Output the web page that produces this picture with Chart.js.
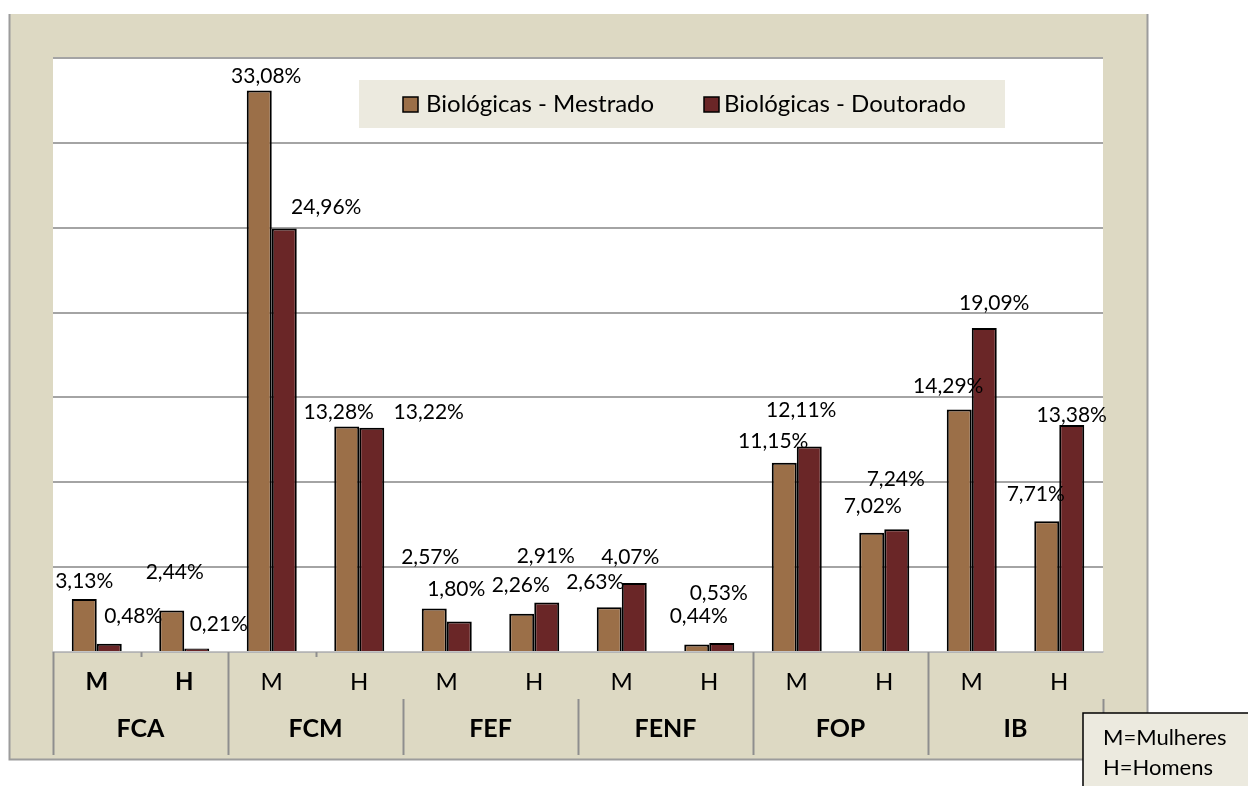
<!DOCTYPE html>
<html><head><meta charset="utf-8">
<script src="https://cdn.jsdelivr.net/npm/chart.js@4.4.1/dist/chart.umd.min.js"></script>
<style>html,body{margin:0;padding:0;background:#fff;}canvas{display:block;}</style>
</head><body>
<canvas id="c" width="1248" height="786"></canvas>
<script>
// ---- data ----
const categories = ['M','H','M','H','M','H','M','H','M','H','M','H'];
const groups = ['FCA','FCM','FEF','FENF','FOP','IB'];
const seriesNames = ['Biológicas - Mestrado','Biológicas - Doutorado'];
const mestrado  = [3.13, 2.44, 33.08, 13.28, 2.57, 2.26, 2.63, 0.44, 11.15, 7.02, 14.29, 7.71];
const doutorado = [0.48, 0.21, 24.96, 13.22, 1.80, 2.91, 4.07, 0.53, 12.11, 7.24, 19.09, 13.38];
const yMin = 0, yMax = 35, yStep = 5;
const noteLines = ['M=Mulheres', 'H=Homens'];

// ---- style ----
const FONT = 'Lato, "Open Sans", sans-serif';
const COL_M = '#9B6F48', COL_D = '#6A2627';
const BEIGE = '#DDD9C3', LIGHT = '#ECEADF', GRID = '#A4A4A4';
// label nudges (px) relative to bar top centre, mimicking the original manual placement
const shiftM = [[0,-18],[3,-38],[7,-14],[-8,-14],[-4,-51],[-1,-28],[-14,-25],[2,-28],[-11,-22],[1,-27],[-11,-23],[-11,-27]];
const shiftD = [[24,-28],[22,-24],[42,-21],[57,-15],[-3,-32],[-1,-46],[-4,-26],[-3,-50],[-8,-36],[-1,-50],[10,-25],[0,-10]];
const sepFull = [true, true, false, false, true, true, false];

const fmt = v => v.toFixed(2).replace('.', ',') + '%';

const framePlugin = {
  id: 'framePlugin',
  beforeDraw(chart) {
    const {ctx, chartArea: a} = chart;
    ctx.save();
    ctx.fillStyle = '#fff'; ctx.fillRect(0, 0, chart.width, chart.height);
    ctx.fillStyle = BEIGE; ctx.fillRect(10, 14, 1137, 745);
    ctx.strokeStyle = '#9C9C9C'; ctx.lineWidth = 2;
    ctx.beginPath(); ctx.moveTo(9.5, 14); ctx.lineTo(9.5, 759.5); ctx.lineTo(1147.5, 759.5); ctx.lineTo(1147.5, 14); ctx.stroke();
    ctx.fillStyle = '#fff'; ctx.fillRect(a.left, a.top, a.right - a.left, a.bottom - a.top);
    ctx.restore();
  },
  afterDatasetsDraw(chart) {
    const {ctx} = chart;
    ctx.save();
    ctx.font = '21px ' + FONT; ctx.fillStyle = '#000';
    ctx.textAlign = 'center'; ctx.textBaseline = 'middle';
    [shiftM, shiftD].forEach((sh, di) => {
      const meta = chart.getDatasetMeta(di);
      const vals = chart.data.datasets[di].data;
      meta.data.forEach((bar, i) => {
        ctx.fillText(fmt(vals[i]), bar.x + sh[i][0], bar.y + sh[i][1]);
      });
    });
    ctx.restore();
  },
  afterDraw(chart) {
    const {ctx, chartArea: a} = chart;
    ctx.save();
    // group separators in the category band
    const w = (a.right - a.left) / groups.length;
    ctx.strokeStyle = '#8E8E8E'; ctx.lineWidth = 2;
    for (let g = 0; g <= groups.length; g++) {
      const x = Math.round(a.left + g * w) + 0.5;
      ctx.beginPath(); ctx.moveTo(x, sepFull[g] ? a.bottom : a.bottom + 47); ctx.lineTo(x, 755); ctx.stroke();
    }
    for (let g = 0; g < 2; g++) {
      const x = Math.round(a.left + g * w + w / 2) + 0.5;
      ctx.beginPath(); ctx.moveTo(x, a.bottom); ctx.lineTo(x, a.bottom + 5); ctx.stroke();
    }
    // legend
    ctx.fillStyle = LIGHT; ctx.fillRect(359, 80, 646, 48);
    const items = [[403, 426], [704, 724]];
    ctx.font = '24px ' + FONT; ctx.textAlign = 'left'; ctx.textBaseline = 'middle';
    chart.data.datasets.forEach((ds, i) => {
      const [mx, tx] = items[i];
      ctx.fillStyle = ds.backgroundColor; ctx.fillRect(mx, 97, 15, 15);
      ctx.strokeStyle = '#000'; ctx.lineWidth = 1.5; ctx.strokeRect(mx, 97, 15, 15);
      ctx.fillStyle = '#000'; ctx.fillText(ds.label, tx, 104);
    });
    // note box
    ctx.fillStyle = LIGHT; ctx.fillRect(1083, 713, 200, 100);
    ctx.strokeStyle = '#000'; ctx.lineWidth = 1.5; ctx.strokeRect(1083, 713, 200, 100);
    ctx.fillStyle = '#000'; ctx.textBaseline = 'alphabetic'; ctx.font = '22px ' + FONT;
    ctx.fillText(noteLines[0], 1103, 745);
    ctx.fillText(noteLines[1], 1103, 775);
    ctx.restore();
  }
};

new Chart(document.getElementById('c'), {
  type: 'bar',
  data: {
    labels: categories,
    datasets: [
      {label: seriesNames[0], data: mestrado, backgroundColor: COL_M, borderColor: '#000', borderWidth: 2},
      {label: seriesNames[1], data: doutorado, backgroundColor: COL_D, borderColor: '#000', borderWidth: 2}
    ]
  },
  options: {
    responsive: false,
    animation: false,
    devicePixelRatio: 1,
    layout: {padding: {left: 53, right: 145, top: 58, bottom: 26}},
    datasets: {bar: {categoryPercentage: 50 / 87.5, barPercentage: 1}},
    plugins: {legend: {display: false}, tooltip: {enabled: false}},
    scales: {
      y: {
        min: yMin, max: yMax,
        ticks: {display: false, stepSize: yStep},
        grid: {color: GRID, lineWidth: 2, drawTicks: false},
        border: {display: false},
        afterFit: s => { s.width = 0; }
      },
      x: {
        grid: {display: false, drawTicks: false},
        border: {display: true, color: '#C4C4C4', width: 1.5},
        ticks: {
          color: '#000', padding: 16, maxRotation: 0, autoSkip: false,
          font: ctx => ({family: FONT, size: 24, weight: ctx.index < 2 ? 'bold' : 'normal'})
        },
        afterFit: s => { s.height = 50; }
      },
      x2: {
        type: 'category', labels: groups, position: 'bottom', offset: true,
        grid: {display: false, drawTicks: false},
        border: {display: false},
        ticks: {color: '#000', padding: 12, maxRotation: 0, autoSkip: false,
          font: {family: FONT, size: 25, weight: 'bold'}},
        afterFit: s => { s.height = 58; }
      }
    }
  },
  plugins: [framePlugin]
});
</script>
</body></html>
